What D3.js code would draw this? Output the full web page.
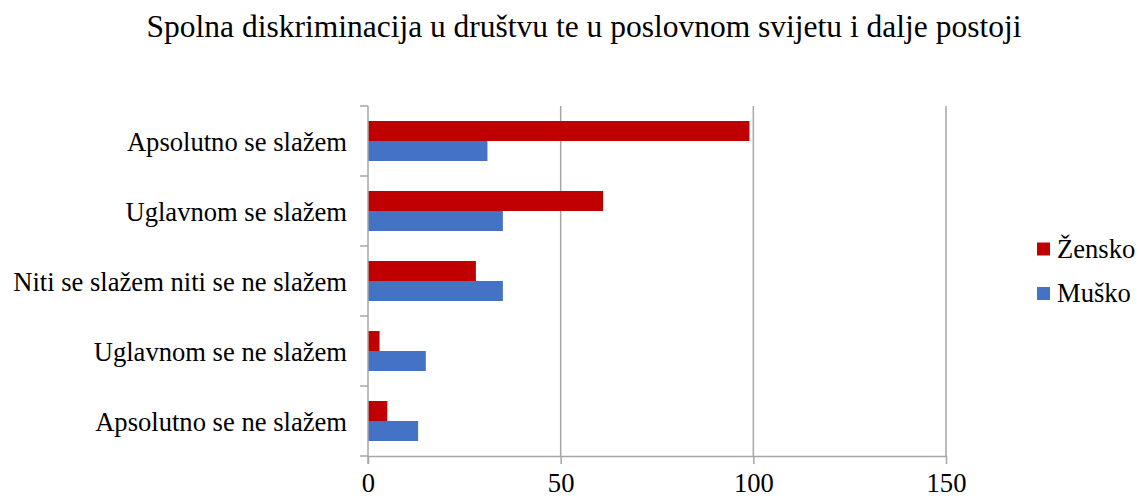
<!DOCTYPE html>
<html><head><meta charset="utf-8">
<script src="https://cdn.jsdelivr.net/npm/d3@7"></script>
<style>body{margin:0;background:#fff}svg{display:block}text{font-family:"Liberation Serif","Times New Roman",serif;fill:#000}</style>
</head><body><svg id="c" width="1139" height="499"></svg>
<script>
const title = "Spolna diskriminacija u društvu te u poslovnom svijetu i dalje postoji";
const categories = ["Apsolutno se slažem","Uglavnom se slažem","Niti se slažem niti se ne slažem","Uglavnom se ne slažem","Apsolutno se ne slažem"];
const seriesNames = ["Žensko","Muško"];
const zensko = [99, 61, 28, 3, 5];
const musko = [31, 35, 35, 15, 13];
const xTicks = [0, 50, 100, 150];
const colors = ["#C00000", "#4472C4"];

(function(){
const svg = d3.select("#c");
const pL = 368, pR = 946, pT = 106, pB = 456;
const fs = "26.6px";
const x = d3.scaleLinear().domain([0,150]).range([pL,pR]);
const y0 = d3.scaleBand().domain(categories).range([pT,pB]).padding(0);
const bw = y0.bandwidth();
const y1 = d3.scaleBand().domain(seriesNames).range([bw*0.2143, bw*0.7857]);
const values = [zensko, musko];

// gridlines
svg.append("g").selectAll("line").data(xTicks.slice(1)).join("line")
  .attr("x1", d=>x(d)).attr("x2", d=>x(d)).attr("y1", pT).attr("y2", pB)
  .attr("stroke","#a6a6a6").attr("stroke-width",1.5);

// bars
const g = svg.append("g");
categories.forEach((c,i)=>{
  seriesNames.forEach((s,j)=>{
    g.append("rect").attr("x", x(0)).attr("y", y0(c)+y1(s))
      .attr("width", x(values[j][i])-x(0)).attr("height", y1.bandwidth())
      .attr("fill", colors[j]);
  });
});

// x axis
const xa = svg.append("g").attr("transform",`translate(0,${pB})`)
  .call(d3.axisBottom(x).tickValues(xTicks).tickSize(8).tickSizeOuter(0));
xa.select(".domain").attr("stroke","#a6a6a6").attr("stroke-width",1.5);
xa.selectAll(".tick line").attr("stroke","#a6a6a6").attr("stroke-width",1.5);
xa.selectAll("text").attr("font-size",fs).attr("font-family","Liberation Serif").attr("fill","#000")
  .attr("y",36).attr("dy","0");
svg.append("line").attr("x1",pL-8).attr("x2",pL).attr("y1",pB).attr("y2",pB).attr("stroke","#a6a6a6").attr("stroke-width",1.5);

// y axis line and category boundary ticks
svg.append("line").attr("x1",pL).attr("x2",pL).attr("y1",pT).attr("y2",pB+8).attr("stroke","#a6a6a6").attr("stroke-width",1.5);
const bounds = categories.map(c=>y0(c));
svg.append("g").selectAll("line").data(bounds).join("line")
  .attr("x1",pL-8).attr("x2",pL).attr("y1",d=>d).attr("y2",d=>d)
  .attr("stroke","#a6a6a6").attr("stroke-width",1.5);
svg.append("g").selectAll("text").data(categories).join("text")
  .attr("x", pL-21).attr("y", d=>y0(d)+bw/2+10)
  .attr("text-anchor","end").attr("font-size",fs).text(d=>d);

// title
svg.append("text").attr("x",584).attr("y",37).attr("text-anchor","middle").attr("font-size","31.5px").text(title);

// legend
const lg = svg.append("g");
seriesNames.forEach((s,j)=>{
  const cy = 249 + j*44.5;
  lg.append("rect").attr("x",1037).attr("y",cy-6.5).attr("width",13).attr("height",13).attr("fill",colors[j]);
  lg.append("text").attr("x",1057).attr("y",cy+8.5).attr("font-size",fs).text(s);
});
})();
</script></body></html>
